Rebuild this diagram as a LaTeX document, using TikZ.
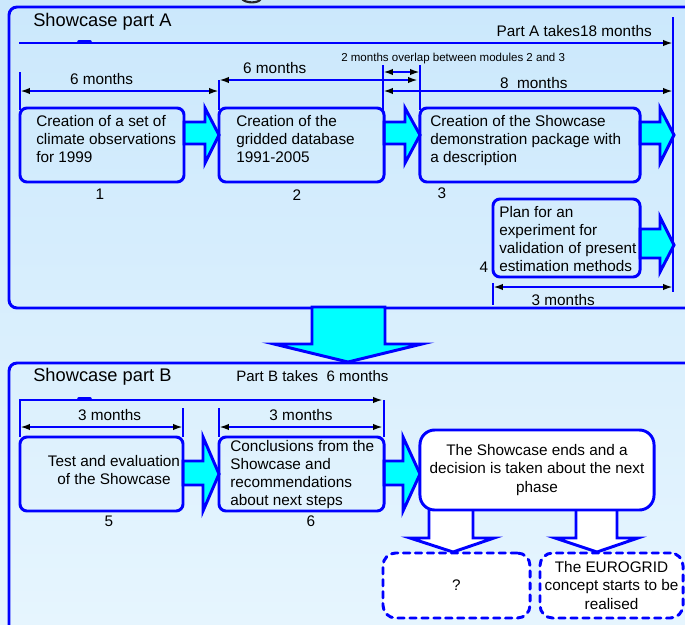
\documentclass[tikz,border=0pt]{standalone}
\usepackage{fontspec}
\setmainfont{Liberation Sans}
\usetikzlibrary{arrows.meta}
\definecolor{bgtop}{RGB}{203,232,252}
\definecolor{bgbot}{RGB}{230,245,254}
\definecolor{lineblue}{RGB}{0,0,255}
\definecolor{arrowcyan}{RGB}{0,255,255}
\begin{document}
\begin{tikzpicture}[x=0.025cm, y=-0.025cm, font=\fontsize{10.9}{12.9}\selectfont,
        >={Latex[color=black, length=7pt, width=4.5pt]},
        blueline/.style={draw=lineblue, line width=2.1pt},
        frame/.style={blueline, rounded corners=5.7pt},
        box/.style={blueline, rounded corners=5pt, inner sep=0pt},
        txt/.style={inner sep=0pt, align=left, anchor=north west},
        fat/.style={blueline, fill=arrowcyan},
        hollow/.style={blueline, fill=white},
        dashbox/.style={blueline, fill=white, rounded corners=9pt, dash pattern=on 4.5pt off 4pt, line cap=round, align=center, inner sep=2pt},
        title/.style={anchor=base west, inner sep=0pt, font=\fontsize{13}{15}\selectfont}]
            \useasboundingbox (0,0) rectangle (685,625);
            \clip (0,0) rectangle (685,625);
            \shade[top color=bgtop, bottom color=bgbot] (0,0) rectangle (685,625);
            \draw[line width=1.5pt, black!85] (242,-1) .. controls (246,3.5) and (258,3.5) .. (261,-1);

            \draw[frame] (9,7) rectangle (720,308);
            \draw[fat] (312,307) -- (312,344) -- (274,344) -- (348,362) -- (422,344) -- (385,344) -- (385,307) -- cycle;
            \draw[frame] (9,363) rectangle (720,690);

            \node[title] (titleA) at (33,26) {Showcase part A};
            \node[anchor=base east, inner sep=0pt] (totalA) at (652,36) {Part A takes18 months};
            \node[anchor=base west, inner sep=0pt, font=\fontsize{8.2}{10}\selectfont] (overlap) at (341,61) {2 months overlap between modules 2 and 3};

            \coordinate (a0) at (19,43);
            \coordinate (a1) at (673,43);
            \draw[blueline, ->] (a0) -- (a1);
            \draw[blueline, line width=2.6pt, line cap=round] (79,42) -- (90,42);
            \draw[blueline] (673,17) -- (673,292);

            \draw[blueline] (20,72) -- (20,110);
            \draw[blueline] (219,80) -- (219,110);
            \draw[blueline] (383,65) -- (383,110);
            \draw[blueline] (420,65) -- (420,110);
            \draw[blueline] (493,283) -- (493,305);

            \coordinate (m1a) at (20,91);
            \coordinate (m1b) at (219,91);
            \draw[blueline, <->] (m1a) -- (m1b) node[pos=0.41, above] {6 months};
            \coordinate (m2a) at (219,80);
            \coordinate (m2b) at (418,80);
            \draw[blueline, <->] (m2a) -- (m2b) node[pos=0.28, above] {6 months};
            \coordinate (ova) at (383,72);
            \coordinate (ovb) at (420,72);
            \draw[blueline, <->] (ova) -- (ovb);
            \coordinate (m3a) at (383,91);
            \coordinate (m3b) at (673,91);
            \draw[blueline, <->] (m3a) -- (m3b) node[pos=0.52, above, inner sep=0.5pt] {8\ \ months};
            \coordinate (m4a) at (493,287);
            \coordinate (m4b) at (673,287);
            \draw[blueline, <->] (m4a) -- (m4b) node[pos=0.39, below=1pt] {3 months};

            \draw[fat] (184,122) -- (205,122) -- (205,108) -- (219,135) -- (205,163) -- (205,144) -- (184,144) -- cycle;
            \draw[fat] (384,122) -- (405,122) -- (405,108) -- (420,135) -- (405,163) -- (405,144) -- (384,144) -- cycle;
            \draw[fat] (640,122) -- (660,122) -- (660,108) -- (674,135) -- (660,163) -- (660,144) -- (640,144) -- cycle;
            \draw[fat] (640,229) -- (660,229) -- (660,217) -- (674,245) -- (660,272) -- (660,258) -- (640,258) -- cycle;

            \node[box, minimum width=4.1cm, minimum height=1.85cm] (b1) at (102,145) {};
            \node[txt] (b1text) at (36,115) {Creation of a set of\\climate observations\\for 1999};
            \node[box, minimum width=4.125cm, minimum height=1.85cm] (b2) at (301.5,145) {};
            \node[txt] (b2text) at (236,115) {Creation of the\\gridded database\\1991-2005};
            \node[box, minimum width=5.5cm, minimum height=1.85cm] (b3) at (530,145) {};
            \node[txt] (b3text) at (430,115) {Creation of the Showcase\\demonstration package with\\a description};
            \node[box, minimum width=3.675cm, minimum height=1.95cm] (b4) at (566.5,238) {};
            \node[txt] (b4text) at (499,206) {Plan for an\\experiment for\\validation of present\\estimation methods};

            \node (n1) at (100,194) {1};
            \node (n2) at (297,195) {2};
            \node (n3) at (442,193) {3};
            \node (n4) at (484,267) {4};

            \node[title] (titleB) at (33,381) {Showcase part B};
            \node[anchor=base west, inner sep=0pt, font=\fontsize{10.7}{12}\selectfont] (totalB) at (236,381) {Part B takes\ \ 6 months};

            \coordinate (bc) at (20,400);
            \coordinate (bend) at (383,400);
            \draw[blueline, ->] (20,437) -- (bc) -- (bend);
            \draw[blueline, line width=2.6pt, line cap=round] (79,399) -- (90,399);
            \draw[blueline] (384,400) -- (384,437);
            \draw[blueline] (183,408) -- (183,437);
            \draw[blueline] (219,408) -- (219,437);

            \coordinate (m5a) at (20,427);
            \coordinate (m5b) at (183,427);
            \draw[blueline, <->] (m5a) -- (m5b) node[pos=0.55, above] {3 months};
            \coordinate (m6a) at (219,427);
            \coordinate (m6b) at (383,427);
            \draw[blueline, <->] (m6a) -- (m6b) node[midway, above] {3 months};

            \draw[fat] (183,461) -- (203,461) -- (203,437) -- (219,474) -- (203,511) -- (203,485) -- (183,485) -- cycle;
            \draw[fat] (384,461) -- (403,461) -- (403,437) -- (420,474) -- (403,511) -- (403,485) -- (384,485) -- cycle;

            \node[box, minimum width=4.075cm, minimum height=1.85cm] (b5) at (101.5,474) {};
            \node[align=center, inner sep=0pt] (b5text) at (114,470) {Test and evaluation\\of the Showcase};
            \node[box, minimum width=4.125cm, minimum height=1.85cm] (b6) at (301.5,474) {};
            \node[txt] (b6text) at (230,440) {Conclusions from the\\Showcase and\\recommendations\\about next steps};

            \node (n5) at (109,521) {5};
            \node (n6) at (311,521) {6};

            \draw[hollow] (429,510) -- (429,538) -- (410,538) -- (453,552) -- (494,538) -- (473,538) -- (473,510);
            \draw[hollow] (576,510) -- (576,538) -- (555,538) -- (597,552) -- (638,538) -- (617,538) -- (617,510);

            \node[box, fill=white, rounded corners=10.5pt, minimum width=5.85cm, minimum height=2cm, align=center] (b7) at (537,470) {The Showcase ends and a\\decision is taken about the next\\phase};

            \node[dashbox, minimum width=3.675cm, minimum height=1.625cm] (unknown) at (456.5,585.5) {?};
            \node[dashbox, minimum width=3.575cm, minimum height=1.625cm] (eurogrid) at (611.5,585.5) {The EUROGRID\\concept starts to be\\realised};
\end{tikzpicture}
\end{document}
